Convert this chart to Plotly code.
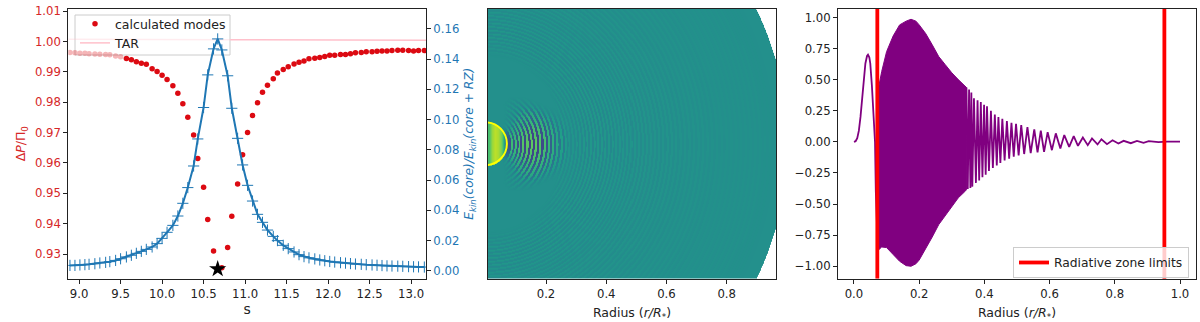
import numpy as np
import plotly.graph_objects as go

W, H = 1200, 322

# left panel: period spacing against s
s_modes = [8.89, 8.95, 9.01, 9.07, 9.12, 9.19, 9.25, 9.32, 9.37, 9.44, 9.50, 9.57, 9.63, 9.69, 9.75, 9.81, 9.88, 9.94,
           10.00, 10.06, 10.13, 10.19, 10.25, 10.31, 10.38, 10.43, 10.50, 10.55, 10.62, 10.67, 10.72, 10.79, 10.84,
           10.91, 10.97, 11.03, 11.09, 11.15, 11.21, 11.27, 11.34, 11.39, 11.46, 11.52, 11.59, 11.65, 11.71, 11.77,
           11.84, 11.90, 11.96, 12.02, 12.08, 12.15, 12.21, 12.27, 12.33, 12.40, 12.46, 12.53, 12.59, 12.65, 12.71,
           12.77, 12.84, 12.90, 12.97, 13.03, 13.09, 13.16]
dp_modes = [.9964, .9963, .9961, .9961, .9960, .9959, .9958, .9957, .9956, .9952, .9950, .9944, .9940, .9933, .9928,
            .9925, .9910, .9901, .9889, .9875, .9854, .9830, .9795, .9751, .9692, .9615, .9520, .9414, .9310, .9250,
            .9255, .9322, .9425, .9531, .9627, .9700, .9756, .9798, .9833, .9856, .9877, .9896, .9908, .9917, .9926,
            .9932, .9936, .9943, .9945, .9947, .9951, .9955, .9955, .9957, .9957, .9960, .9963, .9964, .9966, .9966,
            .9968, .9969, .9969, .9970, .9971, .9971, .9970, .9969, .9970, .9970]
ekin_ratio = [.0035, .0035, .0038, .0040, .0042, .0046, .0051, .0055, .0060, .0068, .0079, .0091, .0102, .0115, .0128,
              .0141, .0157, .0179, .0214, .0254, .0300, .0362, .0446, .0550, .0693, .0872, .1080, .1296, .1468, .1534,
              .1461, .1290, .1075, .0876, .0700, .0565, .0461, .0373, .0320, .0269, .0227, .0199, .0168, .0146, .0124,
              .0106, .0093, .0085, .0078, .0071, .0066, .0061, .0057, .0053, .0050, .0047, .0044, .0042, .0040, .0038,
              .0036, .0034, .0032, .0031, .0030, .0029, .0027, .0026, .0025, .0024]
tar_s = [10.82, 13.18]
tar_dp = [1.0006, 1.0004]
tar_s_under = [8.87, 10.82]
tar_dp_under = [1.0007, 1.0006]
star_s = [10.67]
star_dp = [.9251]
n_under_legend = 11  # first modes sit behind the legend box

# middle panel: rings of the mode seen from the pole, dark stripe radius and contrast
core_radius = 0.07
disk_radius = 1.0
core_x = [.01, .02, .03, .04, .05, .055, .06, .065, .07]
core_z = [.40, .68, .80, .75, .60, .45, .20, -.30, -.60]
ring_r = [.0804, .0914, .1046, .1169, .1302, .1445, .1578, .1724, .1877, .2023, .2156, .2299, .2442, .2588,
          .271, .283, .295, .307, .319, .331, .343, .355, .367, .379, .391, .403, .415, .427, .439, .451, .463, .475,
          .487, .499, .512, .525, .538, .552, .566, .58, .594, .608, .622, .637, .652, .667, .682, .697, .712, .727,
          .742, .758, .774, .79, .806, .822, .838, .854, .87, .886, .902, .918, .934, .95]
ring_dark = [.50, .45, .50, .55, .60, .62, .62, .60, .55, .48, .38, .30, .20, .15,
             .06, .05, .05, .06, .06, .07, .07, .07, .07, .07, .065, .06, .06, .055, .05, .05, .05, .045, .045, .04,
             .04, .04, .035, .035, .03, .03, .028, .028, .025, .025, .022, .02, .02, .018, .018, .016, .014, .014, .012,
             .012, .01, .01, .008, .008, .008, .006, .006, .005, .005, .005]
lens_r = [.07, .10, .12, .14, .17, .20, .23, .26, .30, .40, 1.0]
lens_halfy = [.03, .05, .065, .08, .095, .095, .08, .07, .25, 1.0, 1.0]
fade_u = [0, .5, 1, 1.3, 1.6]
fade_w = [1, .85, .5, .15, 0]

# right panel: eigenfunction, envelope of the dense part and single swings of the outer part
inner_r = [0, .005, .01, .015, .02, .025, .03, .035, .04, .043, .047, .05, .055, .06, .0645, .067, .07, .073]
inner_v = [0, .005, .03, .09, .20, .35, .50, .63, .69, .70, .68, .63, .45, .20, 0, -.40, -.70, -.85]
env_r = [.075, .085, .10, .12, .14, .16, .175, .19, .20, .22, .24, .26, .28, .30, .32, .34, .345]
env_up = [.43, .565, .725, .85, .94, .97, .985, .97, .94, .87, .78, .685, .62, .555, .50, .45, .437]
env_low = [-.87, -.845, -.85, -.905, -.96, -.995, -1.0, -.98, -.95, -.855, -.765, -.665, -.595, -.52, -.45, -.40, -.385]
outer_r = [.345, .349, .353, .357, .36, .363, .368, .374, .379, .384, .389, .394, .399, .404, .408, .414, .420, .426,
           .432, .438, .443, .449, .455, .462, .469, .476, .483, .490, .497, .505, .513, .522, .532, .542, .553, .563,
           .573, .583, .594, .607, .619, .633, .645, .660, .674, .687, .702, .717, .730, .747, .759, .776, .793, .811,
           .827, .849, .868, .888, .904, .934, .96, 1.0]
outer_v = [.437, -.38, .42, -.37, .396, -.36, .351, -.33, .335, -.31, .319, -.285, .298, -.265, .285, -.235, .25, -.21,
           .22, -.19, .20, -.17, .185, -.15, .167, -.135, .153, -.12, .145, -.11, .134, -.098, .118, -.09, .10, -.085,
           .09, -.08, .078, -.067, .068, -.054, .054, -.04, .046, -.032, .035, -.027, .027, -.021, .021, -.019, .013,
           -.013, .008, -.011, .008, -.008, .005, -.003, .002, .001]
zone_limits = [.0716, .952]

fig = go.Figure()

RED = '#d62728'
DOT_RED = '#dc0a12'
PINK = '#ffc0cb'
BLUE = '#1f77b4'
PURPLE = '#800080'


def dom_x(a, b):
    return [a / W, b / W]


def dom_y(top, bottom):
    return [1 - bottom / H, 1 - top / H]


fig.add_trace(go.Scatter(x=tar_s_under, y=tar_dp_under, mode='lines', showlegend=False, opacity=.3,
                         line=dict(color=PINK, width=1.5), xaxis='x', yaxis='y'))
fig.add_trace(go.Scatter(x=tar_s, y=tar_dp, mode='lines', name='TAR', line=dict(color=PINK, width=1.5),
                         xaxis='x', yaxis='y', legendrank=2))
fig.add_trace(go.Scatter(x=s_modes[:n_under_legend], y=dp_modes[:n_under_legend], mode='markers', showlegend=False,
                         opacity=.3, marker=dict(color=DOT_RED, size=5.5), xaxis='x', yaxis='y'))
fig.add_trace(go.Scatter(x=s_modes[n_under_legend:], y=dp_modes[n_under_legend:], mode='markers',
                         name='calculated modes', marker=dict(color=DOT_RED, size=5.5), xaxis='x', yaxis='y',
                         legendrank=1))
fig.add_trace(go.Scatter(x=star_s, y=star_dp, mode='markers', showlegend=False,
                         marker=dict(color='black', size=13, symbol='star'), xaxis='x', yaxis='y'))
fig.add_trace(go.Scatter(x=s_modes, y=ekin_ratio, mode='lines+markers', showlegend=False,
                         line=dict(color=BLUE, width=2),
                         marker=dict(symbol='cross-thin', size=8, line=dict(color=BLUE, width=1)),
                         xaxis='x', yaxis='y2'))

# one heatmap cell per screen pixel, each cell takes the value of the ring it falls on
grid_x = np.linspace(.0073, .9638, 288)
grid_y = np.linspace(-.443, .443, 270)
xx, yy = np.meshgrid(grid_x, grid_y)
rr = np.hypot(xx, yy)
ring_r_a = np.array(ring_r)
ring_dark_a = np.array(ring_dark)
mid_r = (ring_r_a[:-1] + ring_r_a[1:]) / 2
band_r = np.empty(ring_r_a.size * 2 - 1)
band_r[0::2] = ring_r_a
band_r[1::2] = mid_r
band_z = np.empty(band_r.size)
band_z[0::2] = -ring_dark_a
band_z[1::2] = .8 * (ring_dark_a[:-1] + ring_dark_a[1:]) / 2
edges = (band_r[:-1] + band_r[1:]) / 2
idx = np.searchsorted(edges, rr)
zz = band_z[np.clip(idx, 0, band_z.size - 1)]
zz = zz * np.interp(np.abs(yy) / np.interp(rr, lens_r, lens_halfy), fade_u, fade_w)
zz[rr < core_radius] = np.interp(xx[rr < core_radius], core_x, core_z)
zz[rr > ring_r[-1] + .01] = 0
zz[rr > disk_radius] = np.nan

fig.add_trace(go.Heatmap(x=grid_x, y=grid_y, z=zz, colorscale='Viridis', zmin=-1, zmax=1, showscale=False,
                         zsmooth='best', hoverinfo='skip', xaxis='x2', yaxis='y3'))

# dense part is a filled envelope, the rest is a plain line
fig.add_trace(go.Scatter(x=env_r + env_r[::-1], y=env_up + env_low[::-1], mode='lines', fill='toself',
                         fillcolor=PURPLE, line=dict(color=PURPLE, width=1), showlegend=False,
                         xaxis='x3', yaxis='y4'))
fig.add_trace(go.Scatter(x=inner_r, y=inner_v, mode='lines', line=dict(color=PURPLE, width=1.8), showlegend=False,
                         xaxis='x3', yaxis='y4'))
fig.add_trace(go.Scatter(x=outer_r, y=outer_v, mode='lines', line=dict(color=PURPLE, width=1.8), showlegend=False,
                         xaxis='x3', yaxis='y4'))
for i, z in enumerate(zone_limits):
    fig.add_trace(go.Scatter(x=[z, z], y=[-1.10, 1.07], mode='lines', line=dict(color='red', width=3.8),
                             name='Radiative zone limits', showlegend=i == 0, legend='legend2',
                             xaxis='x3', yaxis='y4'))

FONT = 'DejaVu Sans'
SPINE = '#222222'
common = dict(showgrid=False, zeroline=False, showline=True, linecolor=SPINE, linewidth=1, ticks='outside',
              ticklen=4, tickwidth=1, tickcolor=SPINE)

fig.update_layout(
    width=W, height=H, margin=dict(l=0, r=0, t=0, b=0, autoexpand=False), paper_bgcolor='white', plot_bgcolor='white',
    font=dict(family=FONT, size=11.7, color='#222222'),
    xaxis=dict(common, domain=dom_x(68.3, 426), range=[8.87, 13.18], dtick=.5, tick0=9, tickformat='.1f',
               mirror=True, anchor='y', title=dict(text='s', standoff=4)),
    yaxis=dict(common, domain=dom_y(8.7, 278.7), range=[.9219, 1.0108], dtick=.01, tick0=.93, tickformat='.2f',
               tickfont=dict(color=RED), anchor='x',
               title=dict(text='Δ<i>P</i>/Π<sub>0</sub>', font=dict(color=RED, size=12.5), standoff=6)),
    yaxis2=dict(common, domain=dom_y(8.7, 278.7), range=[-.0053, .1734], dtick=.02, tick0=0, tickformat='.2f',
                tickfont=dict(color=BLUE), overlaying='y', side='right', anchor='x',
                title=dict(text='<i>E<sub>kin</sub>(core)/E<sub>kin</sub>(core + RZ)</i>',
                           font=dict(color=BLUE, size=12.2), standoff=6)),
    xaxis2=dict(common, domain=dom_x(488, 776), range=[.0073, .9638], dtick=.2, tick0=0, tickformat='.1f',
                mirror=True, anchor='y3', title=dict(text='Radius (<i>r/R<sub>*</sub></i>)', font=dict(size=12.5), standoff=8)),
    yaxis3=dict(common, domain=dom_y(8.7, 278.7), range=[-.443, .443], showticklabels=False, tickvals=[],
                ticks='', mirror=True, anchor='x2'),
    xaxis3=dict(common, domain=dom_x(838, 1196), range=[-.049, 1.049], dtick=.2, tick0=0, tickformat='.1f',
                mirror=True, anchor='y4', title=dict(text='Radius (<i>r/R<sub>*</sub></i>)', font=dict(size=12.5), standoff=8)),
    yaxis4=dict(common, domain=dom_y(8.7, 278.7), range=[-1.10, 1.07], dtick=.25, tick0=0, tickformat='.2f',
                mirror=True, anchor='x3'),
    legend=dict(x=75 / W, y=1 - 9 / H, xanchor='left', yanchor='top', bgcolor='rgba(0,0,0,0)',
                borderwidth=0, font=dict(size=12.5), traceorder='normal'),
    legend2=dict(x=1013 / W, y=1 - 247 / H, xanchor='left', yanchor='top', bgcolor='rgba(255,255,255,0.8)',
                 bordercolor='#cccccc', borderwidth=1, font=dict(size=12.3)),
    shapes=[dict(type='circle', xref='x2', yref='y3', x0=-core_radius, x1=core_radius, y0=-core_radius, y1=core_radius,
                 line=dict(color='#ffff00', width=2)),
            # legend box stays under the blue curve, as the twin axis does in the original
            dict(type='rect', xref='paper', yref='paper', x0=75 / W, x1=230 / W, y0=1 - 55 / H, y1=1 - 15 / H,
                 layer='below', fillcolor='white', line=dict(color='#cccccc', width=1))],
)

# the page margin would push the figure off the window
fig.write_html("out.html", post_script="document.body.style.margin='0';", config=dict(displayModeBar=False))
